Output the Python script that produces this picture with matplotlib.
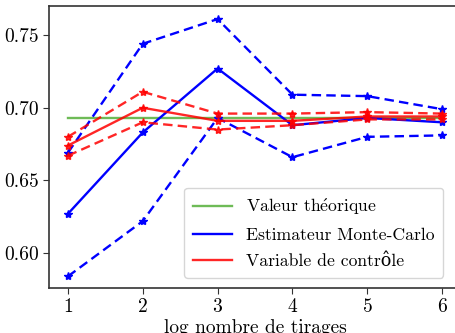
import matplotlib
matplotlib.use("Agg")
import matplotlib.pyplot as plt
from matplotlib.lines import Line2D

plt.rcParams['font.family'] = ['cmr10', 'DejaVu Serif']
plt.rcParams['mathtext.fontset'] = 'cm'
plt.rcParams['axes.formatter.use_mathtext'] = True
plt.rcParams['axes.unicode_minus'] = False

# log nombre de tirages
x = [1, 2, 3, 4, 5, 6]
theorique = 0.6931

# Monte-Carlo estimator and its confidence bounds
mc = [0.627, 0.683, 0.727, 0.688, 0.693, 0.690]
mc_haut = [0.669, 0.744, 0.761, 0.709, 0.708, 0.699]
mc_bas = [0.584, 0.622, 0.693, 0.666, 0.680, 0.681]

# control variate estimator and its bounds
vc = [0.674, 0.700, 0.691, 0.691, 0.694, 0.694]
vc_haut = [0.680, 0.711, 0.696, 0.696, 0.697, 0.696]
vc_bas = [0.667, 0.690, 0.685, 0.688, 0.692, 0.692]

labels = [r"Valeur th$\mathrm{\acute{e}}$orique", "Estimateur Monte-Carlo",
          "Variable de contrôle"]

green = '#55b03a'
lw = 1.7
dash = (4, 2.2)

fig = plt.figure(figsize=(4.55, 3.33), dpi=100)
ax = fig.add_axes([0.108, 0.135, 0.905, 0.847])

ax.plot(x, [theorique] * len(x), color=green, alpha=0.85, lw=lw)
ax.plot(x, mc, color='blue', lw=lw, marker='*', ms=6)
ax.plot(x, mc_haut, color='blue', lw=lw, ls=(0, dash), marker='*', ms=6)
ax.plot(x, mc_bas, color='blue', lw=lw, ls=(0, dash), marker='*', ms=6)
ax.plot(x, vc, color='red', alpha=0.85, lw=lw, marker='*', ms=6)
ax.plot(x, vc_haut, color='red', alpha=0.85, lw=lw, ls=(0, dash), marker='*', ms=6)
ax.plot(x, vc_bas, color='red', alpha=0.85, lw=lw, ls=(0, dash), marker='*', ms=6)

ax.set_xlim(0.75, 6.25)
ax.set_ylim(0.576, 0.770)
ax.set_xticks(x)
ax.set_yticks([0.60, 0.65, 0.70, 0.75])
ax.set_yticklabels(["0.60", "0.65", "0.70", "0.75"])
ax.tick_params(labelsize=14, length=4, color='#333333')
for s in ax.spines.values():
    s.set_color('#333333')
    s.set_linewidth(1.2)
ax.set_xlabel("log nombre de tirages", fontsize=14, labelpad=2)

handles = [Line2D([], [], color=green, alpha=0.85, lw=lw),
           Line2D([], [], color='blue', lw=lw),
           Line2D([], [], color='red', alpha=0.85, lw=lw)]
ax.legend(handles, labels, loc='lower right', fontsize=12.7, handlelength=2.2,
          handletextpad=0.8, labelspacing=0.6, borderpad=0.5,
          bbox_to_anchor=(0.978, 0.005))

fig.savefig("out.png", dpi=100)
